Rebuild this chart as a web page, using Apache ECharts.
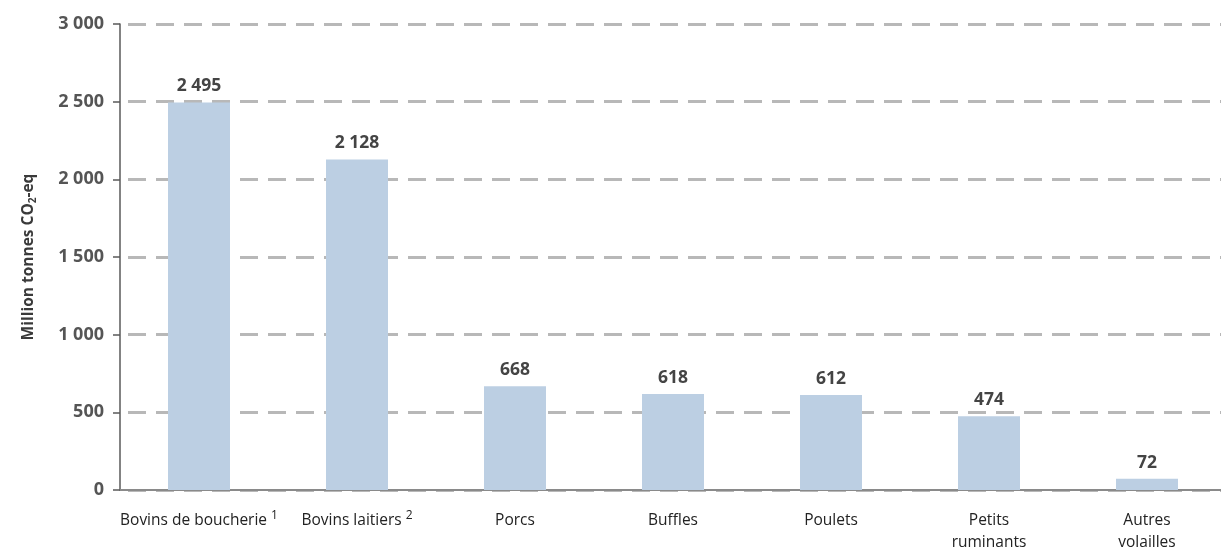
<!DOCTYPE html>
<html>
<head>
<meta charset="utf-8">
<script src="https://cdn.jsdelivr.net/npm/echarts@6/dist/echarts.min.js"></script>
<style>
  html, body { margin: 0; padding: 0; background: #ffffff; }
  #chart { width: 1221px; height: 547px; }
</style>
</head>
<body>
<div id="chart"></div>
<script>
// Livestock categories (label text, footnote marker)
const categories = ['Bovins de boucherie', 'Bovins laitiers', 'Porcs', 'Buffles', 'Poulets', 'Petits\nruminants', 'Autres\nvolailles'];
const footnotes = ['1', '2', '', '', '', '', ''];
// Emissions, million tonnes CO2-eq
const emissions = [2495, 2128, 668, 618, 612, 474, 72];
// Value axis ticks
const yMin = 0;
const yMax = 3000;
const yStep = 500;

function spaced(v) {
  return String(v).replace(/\B(?=(\d{3})+(?!\d))/g, ' ');
}

const chart = echarts.init(document.getElementById('chart'), null, { renderer: 'canvas' });

chart.setOption({
  animation: false,
  backgroundColor: '#ffffff',
  grid: { left: 120, right: -5, top: 24, bottom: 57, containLabel: false, outerBoundsMode: 'none' },
  xAxis: {
    type: 'category',
    data: categories.map((c, i) => footnotes[i] ? c + '|' + footnotes[i] : c),
    axisLine: { show: true, lineStyle: { color: '#8a8a8a', width: 2 } },
    axisTick: { show: false },
    axisLabel: {
      margin: 20,
      interval: 0,
      color: '#222222',
      fontFamily: 'Open Sans',
      fontSize: 15.5,
      lineHeight: 22,
      formatter: function (v) {
        const parts = v.split('|');
        if (parts.length > 1) return '{t|' + parts[0] + '} {s|' + parts[1] + '}';
        return '{t|' + parts[0].split('\n').join('}\n{t|') + '}';
      },
      rich: {
        t: { fontFamily: 'Open Sans', fontSize: 15.5, color: '#222222', lineHeight: 22 },
        s: { fontFamily: 'Open Sans', fontSize: 12, color: '#222222', padding: [0, 0, 10, 0] }
      }
    }
  },
  yAxis: {
    type: 'value',
    min: yMin,
    max: yMax,
    interval: yStep,
    name: '{m|Million tonnes CO}{sub|2}{m|-eq}',
    nameLocation: 'middle',
    nameGap: 82,
    nameRotate: 90,
    nameTextStyle: {
      rich: {
        m: { fontFamily: 'Open Sans', fontWeight: 'bold', fontSize: 15.5, color: '#3a3a3a' },
        sub: { fontFamily: 'Open Sans', fontWeight: 'bold', fontSize: 10, color: '#3a3a3a', padding: [9, 0, 0, 0] }
      }
    },
    axisLine: { show: true, lineStyle: { color: '#5a5a5a', width: 1.5 } },
    axisTick: { show: true, length: 7, lineStyle: { color: '#5a5a5a', width: 1.5 } },
    axisLabel: {
      margin: 16,
      color: '#555555',
      fontFamily: 'Open Sans',
      fontWeight: 'bold',
      fontSize: 18,
      formatter: spaced
    },
    splitLine: {
      show: true,
      lineStyle: { color: '#b8b8b8', width: 3, type: [18, 10], dashOffset: -8 }
    }
  },
  series: [{
    type: 'bar',
    data: emissions,
    barWidth: 62,
    itemStyle: { color: '#bccfe3' },
    label: {
      show: true,
      position: 'top',
      distance: 7,
      color: '#444444',
      fontFamily: 'Open Sans',
      fontWeight: 'bold',
      fontSize: 17.5,
      formatter: p => spaced(p.value)
    }
  }]
});
</script>
</body>
</html>
